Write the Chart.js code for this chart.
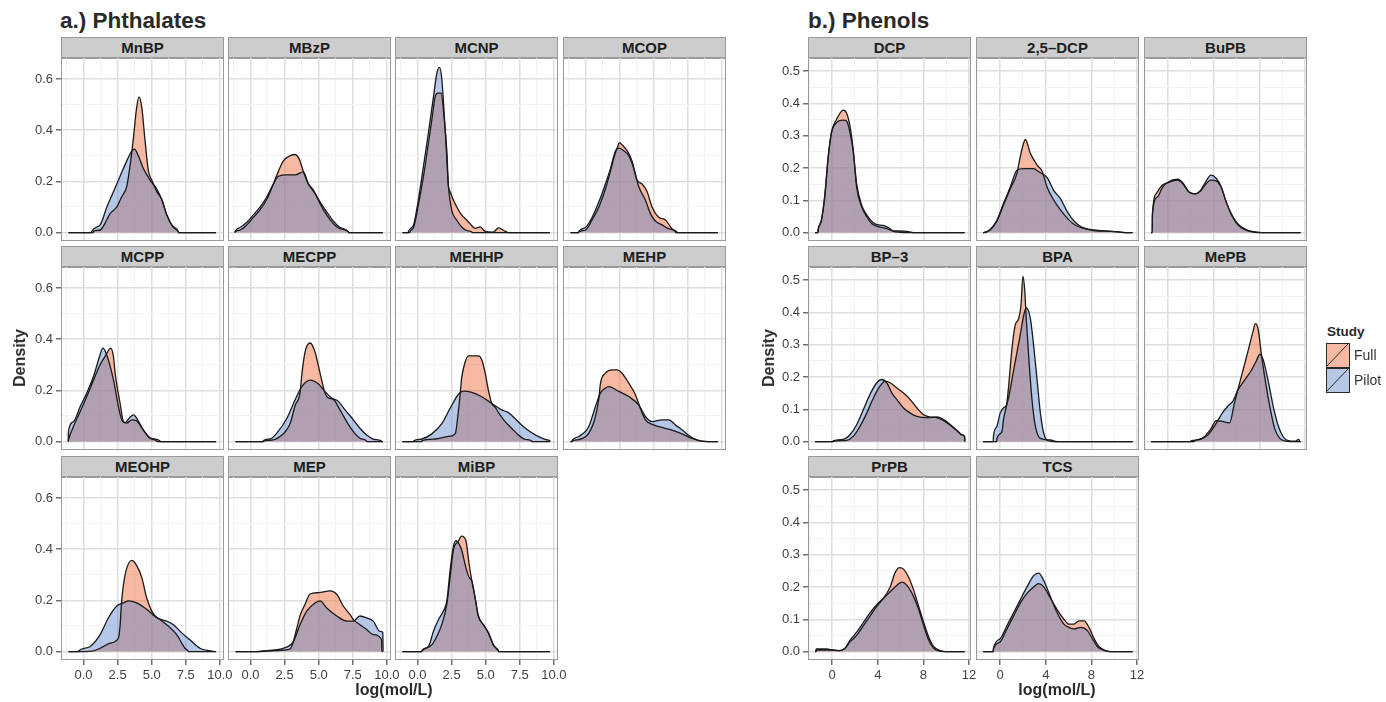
<!DOCTYPE html>
<html lang="en">
<head>
  <meta charset="UTF-8" />
  <title>Urinary biomarker densities: Full vs Pilot study</title>
  <style>
    body {
      margin: 0;
      background: #fff;
      font-family: "Liberation Sans", Arial, sans-serif;
      color: #222;
    }
    #fig {
      position: relative;
      width: 1386px;
      height: 702px;
      overflow: hidden;
    }
    .strip {
      position: absolute;
      box-sizing: border-box;
      background: #cdcdcd;
      border: 1px solid #999;
      text-align: center;
      font-weight: bold;
      font-size: 15px;
      line-height: 20px;
      color: #1e1e1e;
    }
    .frame {
      position: absolute;
      box-sizing: border-box;
      border: 1.5px solid #9a9a9a;
      pointer-events: none;
    }
    .txt {
      position: absolute;
      white-space: nowrap;
    }
    .title { font-weight: bold; font-size: 22.5px; line-height: 22px; color: #2a2a2a; }
    .axtitle { font-weight: bold; font-size: 16px; line-height: 16px; color: #2a2a2a; transform: translate(-50%, -50%); }
    .key {
      position: absolute;
      box-sizing: border-box;
      width: 24px;
      height: 25px;
      border: 1.5px solid #2a2a2a;
    }
    .key svg { position: absolute; left: 0; top: 0; }
    .keylab { font-size: 14px; line-height: 14px; color: #333; }
  </style>
</head>
<body>
  <div id="fig"></div>

  <script src="https://cdn.jsdelivr.net/npm/chart.js"></script>
  <script>
    // facet names, in plotting order
    const phthalateNames = ['MnBP', 'MBzP', 'MCNP', 'MCOP', 'MCPP', 'MECPP', 'MEHHP', 'MEHP', 'MEOHP', 'MEP', 'MiBP'];
    const phenolNames = ['DCP', '2,5\u2013DCP', 'BuPB', 'BP\u20133', 'BPA', 'MePB', 'PrPB', 'TCS'];
    const studies = ['Full', 'Pilot'];

    // axis ticks
    const phthXTicks = [0, 2.5, 5, 7.5, 10];
    const phthYTicks = [0, 0.2, 0.4, 0.6];
    const phenXTicks = [0, 4, 8, 12];
    const phenYTicks = [0, 0.1, 0.2, 0.3, 0.4, 0.5];

    // kernel density of log(mol/L), [x, density]
    const mnbpFull = [[0.73,0.005],[1.22,0.01],[1.71,0.05],[1.95,0.074],[2.44,0.1],[2.8,0.14],[3.17,0.18],[3.46,0.28],[3.66,0.37],[3.9,0.49],[4.07,0.53],[4.27,0.49],[4.51,0.36],[4.76,0.24],[5.0,0.205],[5.37,0.16],[5.73,0.13],[6.1,0.07],[6.46,0.03],[6.95,0.004]];
    const mnbpPilot = [[0.61,0.005],[1.22,0.03],[1.71,0.1],[2.2,0.16],[2.68,0.22],[3.17,0.28],[3.54,0.318],[3.73,0.326],[4.02,0.3],[4.39,0.25],[4.88,0.205],[5.37,0.17],[5.73,0.13],[6.1,0.07],[6.59,0.02],[6.95,0.003]];
    const mbzpFull = [[-1.12,0.003],[-0.76,0.01],[-0.27,0.03],[0.22,0.06],[0.71,0.09],[1.2,0.13],[1.68,0.19],[2.05,0.24],[2.41,0.28],[2.9,0.3],[3.27,0.305],[3.63,0.28],[3.88,0.237],[4.24,0.19],[4.61,0.166],[5.1,0.113],[5.59,0.068],[6.07,0.035],[6.56,0.015],[7.17,0.003]];
    const mbzpPilot = [[-1.12,0.005],[-0.76,0.02],[-0.27,0.04],[0.22,0.07],[0.71,0.1],[1.2,0.14],[1.68,0.19],[2.05,0.22],[2.66,0.225],[3.27,0.225],[3.88,0.237],[4.24,0.19],[4.61,0.162],[5.1,0.12],[5.59,0.08],[6.07,0.045],[6.56,0.02],[7.17,0.003]];
    const mcnpFull = [[-0.54,0.005],[-0.29,0.02],[0.07,0.11],[0.44,0.22],[0.8,0.35],[1.05,0.44],[1.29,0.53],[1.49,0.545],[1.73,0.545],[1.95,0.45],[2.15,0.32],[2.27,0.18],[2.39,0.16],[2.63,0.127],[2.88,0.1],[3.24,0.068],[3.49,0.055],[3.85,0.035],[4.22,0.016],[4.59,0.022],[4.95,0.005],[5.56,0.002],[5.93,0.018],[6.29,0.009],[6.66,0]];
    const mcnpPilot = [[-0.66,0.005],[-0.29,0.03],[0.07,0.13],[0.44,0.26],[0.8,0.39],[1.17,0.53],[1.41,0.62],[1.61,0.645],[1.78,0.6],[2.03,0.4],[2.27,0.18],[2.51,0.087],[2.88,0.048],[3.24,0.022],[3.61,0.008],[3.98,0.002]];
    const mcopFull = [[-0.49,0.003],[0,0.01],[0.49,0.05],[0.98,0.1],[1.46,0.17],[1.83,0.24],[2.07,0.29],[2.32,0.33],[2.49,0.351],[2.73,0.34],[3.05,0.32],[3.41,0.28],[3.78,0.205],[4.15,0.19],[4.51,0.16],[4.88,0.1],[5.37,0.06],[5.85,0.05],[6.34,0.015],[6.71,0.002]];
    const mcopPilot = [[-0.49,0.005],[0,0.02],[0.49,0.06],[0.98,0.12],[1.46,0.19],[1.83,0.25],[2.2,0.32],[2.44,0.33],[2.8,0.32],[3.17,0.3],[3.54,0.25],[3.9,0.18],[4.39,0.127],[4.76,0.074],[5.12,0.045],[5.61,0.03],[6.1,0.015],[6.59,0.004]];
    const mcppFull = [[-1.1,0.006],[-0.73,0.06],[-0.24,0.117],[0.24,0.176],[0.73,0.24],[1.22,0.3],[1.66,0.34],[2.0,0.365],[2.2,0.33],[2.32,0.267],[2.68,0.15],[2.93,0.078],[3.17,0.072],[3.54,0.085],[3.9,0.08],[4.39,0.045],[4.88,0.015],[5.61,0.002]];
    const mcppPilot = [[-1.1,0.04],[-0.73,0.078],[-0.24,0.137],[0.24,0.19],[0.73,0.254],[1.22,0.34],[1.41,0.365],[1.66,0.345],[2.2,0.24],[2.56,0.137],[2.8,0.085],[3.05,0.074],[3.41,0.095],[3.66,0.104],[4.02,0.08],[4.39,0.045],[4.88,0.013],[5.37,0.002]];
    const mecppFull = [[0.95,0.002],[1.44,0.005],[2.17,0.02],[2.9,0.07],[3.27,0.14],[3.63,0.19],[3.76,0.26],[4.0,0.35],[4.37,0.385],[4.73,0.35],[5.1,0.267],[5.46,0.19],[5.71,0.17],[6.07,0.165],[6.56,0.124],[7.05,0.078],[7.54,0.039],[8.02,0.013],[8.51,0.002]];
    const mecppPilot = [[0.95,0.004],[1.44,0.01],[1.93,0.033],[2.66,0.09],[3.27,0.163],[3.76,0.215],[4.37,0.24],[4.98,0.225],[5.46,0.195],[5.95,0.17],[6.44,0.157],[6.93,0.124],[7.54,0.085],[8.02,0.052],[8.51,0.026],[9.0,0.009],[9.61,0.002]];
    const mehhpFull = [[0.32,0.003],[1.29,0.01],[2.27,0.02],[2.76,0.03],[3.0,0.12],[3.12,0.18],[3.24,0.25],[3.49,0.31],[3.73,0.335],[4.46,0.335],[4.71,0.32],[4.95,0.27],[5.2,0.2],[5.44,0.15],[5.68,0.135],[5.98,0.11],[6.42,0.078],[6.9,0.052],[7.39,0.026],[7.88,0.009],[8.37,0.002]];
    const mehhpPilot = [[-0.29,0.002],[0.32,0.01],[1.05,0.03],[1.78,0.07],[2.39,0.13],[3.0,0.185],[3.37,0.197],[3.98,0.192],[4.71,0.175],[5.56,0.145],[6.17,0.124],[6.66,0.113],[7.15,0.09],[7.63,0.065],[8.24,0.039],[8.85,0.02],[9.46,0.007],[9.7,0.004]];
    const mehpFull = [[-0.98,0.002],[-0.49,0.008],[0.24,0.033],[0.73,0.098],[0.98,0.17],[1.1,0.228],[1.46,0.267],[1.95,0.28],[2.32,0.28],[2.68,0.267],[3.17,0.228],[3.66,0.183],[4.02,0.13],[4.39,0.085],[5.0,0.065],[5.61,0.055],[6.34,0.045],[7.07,0.03],[7.8,0.012],[8.41,0.003],[9.0,0]];
    const mehpPilot = [[-0.98,0.004],[-0.49,0.02],[0.24,0.059],[0.73,0.137],[1.1,0.19],[1.46,0.209],[1.71,0.215],[2.44,0.196],[3.17,0.176],[3.9,0.143],[4.39,0.098],[4.88,0.078],[5.61,0.085],[6.1,0.085],[6.59,0.065],[7.07,0.046],[7.68,0.02],[8.29,0.004],[9.0,0]];
    const meohpFull = [[0.0,0.0],[0.73,0.003],[1.22,0.013],[1.95,0.033],[2.56,0.053],[2.68,0.1],[2.8,0.2],[3.05,0.3],[3.54,0.356],[3.9,0.336],[4.27,0.29],[4.63,0.21],[5.0,0.158],[5.24,0.14],[5.61,0.125],[6.1,0.105],[6.83,0.066],[7.44,0.013],[7.68,0.002]];
    const meohpPilot = [[-0.37,0.002],[0.49,0.02],[1.22,0.066],[1.83,0.132],[2.44,0.178],[2.93,0.19],[3.29,0.198],[3.9,0.19],[4.63,0.165],[5.37,0.132],[6.1,0.119],[6.59,0.105],[7.2,0.073],[7.8,0.046],[8.54,0.013],[9.27,0.003],[9.63,0]];
    const mepFull = [[0.49,0],[1.22,0.002],[2.17,0.005],[2.9,0.01],[3.15,0.04],[3.39,0.09],[3.63,0.14],[4.0,0.185],[4.37,0.225],[4.98,0.23],[5.83,0.237],[6.32,0.224],[6.8,0.178],[7.29,0.145],[7.54,0.125],[8.02,0.105],[8.51,0.086],[9.0,0.066],[9.61,0.046]];
    const mepPilot = [[0.49,0],[1.22,0.004],[2.42,0.013],[3.15,0.04],[3.63,0.105],[4.12,0.158],[4.73,0.19],[5.1,0.198],[5.59,0.17],[6.32,0.139],[7.05,0.119],[7.54,0.119],[8.02,0.139],[8.51,0.132],[9.0,0.119],[9.49,0.079],[9.7,0.075]];
    const mibpFull = [[0.32,0.002],[1.05,0.026],[1.41,0.059],[1.78,0.105],[2.15,0.185],[2.39,0.29],[2.63,0.396],[2.98,0.43],[3.24,0.451],[3.54,0.435],[3.78,0.343],[3.98,0.277],[4.22,0.211],[4.46,0.139],[4.83,0.105],[5.2,0.073],[5.56,0.026],[5.93,0.003]];
    const mibpPilot = [[0.32,0.004],[0.8,0.02],[1.17,0.079],[1.54,0.125],[1.9,0.158],[2.15,0.198],[2.39,0.317],[2.63,0.41],[2.83,0.433],[3.05,0.42],[3.24,0.396],[3.54,0.33],[3.78,0.29],[3.98,0.277],[4.22,0.211],[4.46,0.139],[4.83,0.105],[5.2,0.073],[5.56,0.026],[5.93,0.003]];

    const dcpFull = [[-1.24,0.007],[-0.94,0.038],[-0.65,0.11],[-0.35,0.23],[-0.06,0.31],[0.38,0.35],[0.97,0.379],[1.26,0.37],[1.56,0.33],[1.85,0.255],[2.15,0.14],[2.59,0.08],[3.03,0.049],[3.47,0.028],[3.91,0.02],[4.79,0.012],[5.38,0.005],[5.97,0.005],[6.56,0.004],[7.15,0]];
    const dcpPilot = [[-1.24,0.007],[-0.94,0.04],[-0.65,0.115],[-0.35,0.235],[-0.06,0.31],[0.38,0.34],[0.97,0.348],[1.26,0.345],[1.56,0.31],[1.85,0.25],[2.15,0.15],[2.59,0.085],[3.03,0.055],[3.47,0.035],[3.91,0.025],[4.5,0.022],[5.09,0.012],[5.38,0.004],[5.97,0.001],[6.56,0]];
    const dcp25Full = [[-1.47,0],[-0.88,0.008],[-0.29,0.035],[0.29,0.085],[0.88,0.135],[1.47,0.183],[1.76,0.234],[2.0,0.27],[2.21,0.288],[2.65,0.245],[3.24,0.209],[3.68,0.19],[4.12,0.14],[4.71,0.1],[5.29,0.07],[6.0,0.04],[6.5,0.025],[7.1,0.015],[8.2,0.006],[9.7,0.004],[10.3,0.003],[11.0,0]];
    const dcp25Pilot = [[-1.47,0],[-0.88,0.01],[-0.29,0.038],[0.29,0.09],[0.88,0.14],[1.47,0.193],[2.06,0.198],[2.94,0.198],[3.38,0.188],[4.12,0.17],[4.71,0.13],[5.29,0.105],[5.88,0.065],[6.5,0.035],[7.1,0.018],[8.2,0.008],[9.7,0.004],[10.3,0.002],[11.0,0]];
    const bupbFull = [[-1.38,0.054],[-1.06,0.12],[-0.5,0.147],[-0.06,0.154],[0.82,0.162],[1.26,0.152],[1.85,0.125],[2.38,0.12],[2.82,0.128],[3.18,0.145],[3.76,0.162],[4.21,0.16],[4.65,0.14],[5.09,0.095],[5.53,0.059],[5.97,0.033],[6.41,0.018],[7.0,0.007],[7.59,0.002],[8.2,0]];
    const bupbPilot = [[-1.38,0.059],[-0.94,0.11],[-0.5,0.14],[-0.06,0.155],[0.82,0.165],[1.26,0.155],[1.85,0.125],[2.38,0.12],[2.82,0.13],[3.18,0.15],[3.76,0.178],[4.21,0.168],[4.65,0.142],[5.09,0.095],[5.53,0.057],[5.97,0.03],[6.41,0.015],[7.0,0.005],[7.59,0.001],[8.2,0]];
    const bp3Full = [[0.09,0.001],[1.26,0.004],[1.85,0.016],[2.44,0.047],[3.03,0.088],[3.62,0.135],[4.21,0.172],[4.65,0.187],[5.09,0.182],[5.68,0.166],[6.26,0.15],[6.85,0.13],[7.44,0.104],[8.03,0.083],[8.62,0.076],[9.06,0.075],[9.79,0.065],[10.38,0.05],[10.97,0.033],[11.41,0.02],[11.62,0.015]];
    const bp3Pilot = [[0.09,0.002],[0.97,0.007],[1.56,0.021],[2.15,0.052],[2.74,0.099],[3.32,0.146],[3.91,0.182],[4.35,0.192],[4.79,0.182],[5.24,0.15],[5.68,0.13],[6.26,0.104],[6.85,0.088],[7.44,0.078],[8.32,0.074],[9.21,0.076],[9.79,0.068],[10.38,0.052],[10.97,0.034],[11.41,0.021],[11.62,0.016]];
    const bpaFull = [[-0.29,0.01],[0.15,0.03],[0.29,0.068],[0.59,0.12],[0.74,0.17],[1.03,0.286],[1.32,0.36],[1.62,0.38],[1.82,0.42],[2.0,0.511],[2.15,0.47],[2.29,0.38],[2.5,0.265],[2.79,0.13],[3.09,0.047],[3.53,0.01],[4.41,0.005],[5.0,0]];
    const bpaPilot = [[-0.59,0.016],[-0.29,0.047],[0.0,0.088],[0.29,0.104],[0.59,0.115],[1.18,0.22],[1.76,0.33],[2.06,0.39],[2.29,0.414],[2.65,0.38],[2.94,0.296],[3.24,0.19],[3.53,0.088],[3.82,0.026],[4.12,0.004],[4.7,0]];
    const mepbFull = [[2.0,0.002],[2.59,0.005],[3.18,0.015],[3.76,0.04],[4.21,0.065],[4.65,0.063],[5.38,0.058],[5.82,0.12],[6.26,0.18],[6.71,0.24],[7.15,0.3],[7.44,0.34],[7.65,0.365],[7.88,0.35],[8.18,0.27],[8.47,0.2],[8.91,0.11],[9.35,0.04],[9.79,0.01],[10.24,0.002],[10.8,0]];
    const mepbPilot = [[2.29,0.002],[2.88,0.008],[3.47,0.02],[3.91,0.04],[4.35,0.065],[4.79,0.09],[5.24,0.11],[5.68,0.125],[6.12,0.16],[6.71,0.19],[7.29,0.22],[7.74,0.25],[8.03,0.27],[8.32,0.255],[8.76,0.19],[9.21,0.11],[9.65,0.05],[10.09,0.015],[10.53,0.003],[11.12,0.001],[11.47,0.007],[11.56,0]];
    const prpbFull = [[-1.4,0.008],[-0.5,0.008],[0.09,0.005],[0.68,0.003],[1.12,0.01],[1.56,0.03],[2.15,0.05],[2.74,0.08],[3.32,0.11],[3.91,0.14],[4.5,0.165],[5.09,0.2],[5.53,0.245],[5.91,0.26],[6.26,0.255],[6.71,0.23],[7.15,0.19],[7.59,0.14],[8.03,0.09],[8.47,0.045],[8.91,0.015],[9.5,0.003],[10.0,0]];
    const prpbPilot = [[-1.4,0.005],[-0.2,0.005],[0.68,0.003],[1.12,0.01],[1.56,0.035],[2.15,0.06],[2.74,0.09],[3.32,0.12],[3.91,0.145],[4.5,0.165],[5.09,0.185],[5.68,0.205],[6.12,0.215],[6.56,0.205],[7.15,0.17],[7.59,0.13],[8.03,0.08],[8.47,0.035],[8.91,0.01],[9.35,0.002],[9.8,0]];
    const tcsFull = [[-0.59,0.008],[0,0.03],[0.59,0.07],[1.18,0.11],[1.76,0.15],[2.35,0.18],[2.94,0.2],[3.38,0.21],[3.82,0.2],[4.41,0.165],[5.0,0.13],[5.59,0.1],[6.03,0.085],[6.47,0.085],[6.91,0.095],[7.35,0.095],[7.79,0.075],[8.24,0.04],[8.68,0.015],[9.26,0.003],[9.7,0]];
    const tcsPilot = [[-0.59,0.01],[0,0.04],[0.59,0.08],[1.18,0.12],[1.76,0.16],[2.35,0.2],[2.94,0.235],[3.38,0.243],[3.82,0.22],[4.41,0.17],[5.0,0.12],[5.59,0.085],[6.03,0.075],[6.47,0.07],[7.06,0.075],[7.65,0.065],[8.09,0.04],[8.53,0.015],[9.12,0.004],[9.7,0]];

    const phthalateCurves = [
      [mnbpFull, mnbpPilot], [mbzpFull, mbzpPilot], [mcnpFull, mcnpPilot], [mcopFull, mcopPilot],
      [mcppFull, mcppPilot], [mecppFull, mecppPilot], [mehhpFull, mehhpPilot], [mehpFull, mehpPilot],
      [meohpFull, meohpPilot], [mepFull, mepPilot], [mibpFull, mibpPilot]
    ];
    const phenolCurves = [
      [dcpFull, dcpPilot], [dcp25Full, dcp25Pilot], [bupbFull, bupbPilot],
      [bp3Full, bp3Pilot], [bpaFull, bpaPilot], [mepbFull, mepbPilot],
      [prpbFull, prpbPilot], [tcsFull, tcsPilot]
    ];

    // ---- layout ----
    const PLOT_W = 163, PLOT_H = 183, STRIP_H = 21;
    const ROW_TOPS = [37, 246, 456];
    const AXIS_W = 30, AXIS_H = 26, PAD = 16;
    const FULL_FILL = 'rgba(240,115,70,0.5)';
    const PILOT_FILL = 'rgba(86,128,200,0.43)';
    const LINE = '#1a1a1a';

    const panels = [
      {
        names: phthalateNames, curves: phthalateCurves, cols: [61, 228, 395, 563],
        xTicks: phthXTicks, yTicks: phthYTicks,
        xMin: -1.65, xMax: 10.3, yMin: -0.033, yMax: 0.682, span: [-1.1, 9.7],
        xFmt: v => v.toFixed(1)
      },
      {
        names: phenolNames, curves: phenolCurves, cols: [808, 976, 1144],
        xTicks: phenXTicks, yTicks: phenYTicks,
        xMin: -2.12, xMax: 12.18, yMin: -0.026, yMax: 0.54, span: [-1.5, 11.62],
        xFmt: v => String(v)
      }
    ];

    Chart.defaults.font.family = '"Liberation Sans", Arial, sans-serif';
    const fig = document.getElementById('fig');

    function addDiv(cls, css, text) {
      const d = document.createElement('div');
      d.className = cls;
      d.style.cssText = css;
      if (text !== undefined) d.textContent = text;
      fig.appendChild(d);
      return d;
    }

    // closes a curve down to the baseline and runs the baseline over the full data span
    function toPoints(pairs, lo, hi) {
      const pts = pairs.map(([x, y]) => ({ x, y }));
      if (pts[0].y > 0) pts.unshift({ x: pts[0].x - 0.02, y: 0 });
      if (pts[0].x > lo) pts.unshift({ x: lo, y: 0 });
      const last = pts[pts.length - 1];
      if (last.y > 0) pts.push({ x: last.x + 0.02, y: 0 });
      if (pts[pts.length - 1].x < hi) pts.push({ x: hi, y: 0 });
      return pts;
    }

    // major ticks plus the minor ones halfway between
    function withMinor(major, lo, hi) {
      const step = major[1] - major[0];
      const out = [];
      for (let v = major[0] - step / 2; v <= hi; v += step / 2) {
        if (v >= lo) out.push(Math.round(v * 1000) / 1000);
      }
      return out;
    }

    function axis(major, lo, hi, show, fmt, fitKey, size) {
      const isMajor = v => major.some(m => Math.abs(m - v) < 1e-6);
      const all = withMinor(major, lo, hi);
      return {
        type: 'linear',
        min: lo,
        max: hi,
        afterBuildTicks: s => { s.ticks = all.map(v => ({ value: v })); },
        afterFit: s => {
          s[fitKey] = size;
          s.paddingLeft = s.paddingRight = s.paddingTop = s.paddingBottom = 0;
        },
        ticks: {
          display: show,
          autoSkip: false,
          maxRotation: 0,
          padding: 3,
          color: '#3f3f3f',
          font: { size: 13 },
          callback: v => (isMajor(v) ? fmt(v) : '')
        },
        grid: {
          color: c => (c.tick && isMajor(c.tick.value) ? '#dedede' : '#f2f2f2'),
          lineWidth: c => (c.tick && isMajor(c.tick.value) ? 1.5 : 1),
          drawTicks: show,
          tickLength: 5,
          tickColor: c => (c.tick && isMajor(c.tick.value) ? '#6e6e6e' : 'rgba(0,0,0,0)')
        },
        border: { display: false }
      };
    }

    function drawFacet(panel, i) {
      const nCols = panel.cols.length;
      const col = i % nCols, row = Math.floor(i / nCols);
      const lastRow = Math.floor((panel.names.length - 1) / nCols);
      const isLeft = col === 0, isBottom = row === lastRow;
      const left = panel.cols[col];
      const plotTop = ROW_TOPS[row] + STRIP_H;

      addDiv('strip', `left:${left}px;top:${ROW_TOPS[row]}px;width:${PLOT_W}px;height:${STRIP_H + 1}px;`, panel.names[i]);

      const leftSpace = isLeft ? AXIS_W : 0;
      const bottomSpace = isBottom ? AXIS_H : 0;
      const canvas = document.createElement('canvas');
      canvas.width = PLOT_W + leftSpace + 2 * PAD;
      canvas.height = PLOT_H + bottomSpace;
      canvas.style.cssText = `position:absolute;left:${left - leftSpace - PAD}px;top:${plotTop}px;`;
      fig.appendChild(canvas);

      const [full, pilot] = panel.curves[i];
      const [lo, hi] = panel.span;
      const line = {
        borderColor: LINE,
        borderWidth: 1.3,
        fill: 'origin',
        pointRadius: 0,
        cubicInterpolationMode: 'monotone'
      };

      new Chart(canvas, {
        type: 'line',
        data: {
          datasets: [
            Object.assign({ label: studies[1], data: toPoints(pilot, lo, hi), backgroundColor: PILOT_FILL }, line),
            Object.assign({ label: studies[0], data: toPoints(full, lo, hi), backgroundColor: FULL_FILL }, line)
          ]
        },
        options: {
          responsive: false,
          animation: false,
          devicePixelRatio: 1,
          layout: { padding: { left: PAD, right: PAD, top: 0, bottom: 0 } },
          plugins: {
            legend: { display: false },
            tooltip: { enabled: false },
            filler: { drawTime: 'beforeDatasetsDraw' }
          },
          scales: {
            x: axis(panel.xTicks, panel.xMin, panel.xMax, isBottom, panel.xFmt, 'height', bottomSpace),
            y: axis(panel.yTicks, panel.yMin, panel.yMax, isLeft, v => v.toFixed(1), 'width', leftSpace)
          }
        }
      });

      addDiv('frame', `left:${left}px;top:${plotTop - 1}px;width:${PLOT_W}px;height:${PLOT_H + 1}px;`);
    }

    panels.forEach(p => p.names.forEach((_, i) => drawFacet(p, i)));

    // titles and axis labels
    addDiv('txt title', 'left:60px;top:10px;', 'a.) Phthalates');
    addDiv('txt title', 'left:808px;top:10px;', 'b.) Phenols');
    addDiv('txt axtitle', 'left:394px;top:690px;', 'log(mol/L)');
    addDiv('txt axtitle', 'left:1057px;top:690px;', 'log(mol/L)');
    addDiv('txt axtitle', 'left:20px;top:358px;transform:translate(-50%,-50%) rotate(-90deg);', 'Density');
    addDiv('txt axtitle', 'left:769px;top:358px;transform:translate(-50%,-50%) rotate(-90deg);', 'Density');

    // legend
    addDiv('txt', 'left:1327px;top:325px;font-weight:bold;font-size:13.5px;line-height:13px;color:#2a2a2a;', 'Study');
    const keyFills = ['rgb(247,185,162)', 'rgb(183,199,230)'];
    studies.forEach((s, k) => {
      const top = 343 + k * 25;
      const key = addDiv('key', `left:1326px;top:${top}px;background:${keyFills[k]};`);
      key.innerHTML = '<svg width="21" height="22"><line x1="0" y1="22" x2="21" y2="0" stroke="#2a2a2a" stroke-width="1"/></svg>';
      addDiv('txt keylab', `left:1354px;top:${top + 5}px;`, s);
    });
  </script>
</body>
</html>
